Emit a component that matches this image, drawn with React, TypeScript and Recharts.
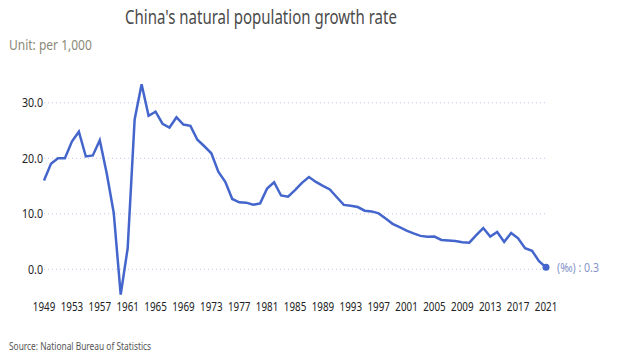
import { LineChart, Line, XAxis, YAxis, CartesianGrid } from "recharts";

const years = [
  1949, 1950, 1951, 1952, 1953, 1954, 1955, 1956, 1957, 1958, 1959, 1960, 1961, 1962, 1963, 1964, 1965, 1966, 1967,
  1968, 1969, 1970, 1971, 1972, 1973, 1974, 1975, 1976, 1977, 1978, 1979, 1980, 1981, 1982, 1983, 1984, 1985, 1986,
  1987, 1988, 1989, 1990, 1991, 1992, 1993, 1994, 1995, 1996, 1997, 1998, 1999, 2000, 2001, 2002, 2003, 2004, 2005,
  2006, 2007, 2008, 2009, 2010, 2011, 2012, 2013, 2014, 2015, 2016, 2017, 2018, 2019, 2020, 2021,
];

const growthRate = [
  16.0, 19.0, 20.0, 20.0, 23.0, 24.79, 20.32, 20.5, 23.23, 17.24, 10.19, -4.57, 3.78, 26.99, 33.33, 27.64, 28.38,
  26.22, 25.53, 27.38, 26.08, 25.83, 23.33, 22.16, 20.89, 17.57, 15.77, 12.66, 12.06, 12.0, 11.61, 11.87, 14.55,
  15.68, 13.29, 13.08, 14.26, 15.57, 16.61, 15.73, 15.04, 14.39, 12.98, 11.6, 11.45, 11.21, 10.55, 10.42, 10.06,
  9.14, 8.18, 7.58, 6.95, 6.45, 6.01, 5.87, 5.89, 5.28, 5.17, 5.08, 4.87, 4.79, 6.13, 7.43, 5.9, 6.71, 4.93, 6.53,
  5.58, 3.78, 3.32, 1.45, 0.34,
];

const xTicks = [1949, 1953, 1957, 1961, 1965, 1969, 1973, 1977, 1981, 1985, 1989, 1993, 1997, 2001, 2005, 2009, 2013, 2017, 2021];
const yTicks = [0, 10, 20, 30];

const data = years.map((year, i) => ({ year, rate: growthRate[i] }));

const LINE = "#4466cc";
const FONT = "'Noto Sans', 'Open Sans', sans-serif";

// the original uses a condensed face; squeeze Noto Sans horizontally
function XTick({ x, y, payload }: any) {
  return (
    <text transform={`translate(${x},${y}) scale(0.82,1)`} textAnchor="middle" dy="0.71em" fontSize={12} fill="#222" fontFamily={FONT}>
      {payload.value}
    </text>
  );
}

function YTick({ x, y, payload }: any) {
  return (
    <text transform={`translate(${x},${y}) scale(0.85,1)`} textAnchor="end" dy="0.35em" fontSize={12.5} fill="#222" fontFamily={FONT}>
      {Number(payload.value).toFixed(1)}
    </text>
  );
}

function EndDot(props: any) {
  const { cx, cy, index, value } = props;
  if (index !== data.length - 1) return null;
  return (
    <g>
      <circle cx={cx} cy={cy} r={3.5} fill={LINE} />
      <text transform={`translate(${cx + 11},${cy}) scale(0.88,1)`} dy="0.35em" fontSize={12} fill="#8595c8" fontFamily={FONT}>
        (‰) : {Number(value).toFixed(1)}
      </text>
    </g>
  );
}

const squeeze = (s: number) => ({ transform: `scaleX(${s})`, transformOrigin: "left center", whiteSpace: "nowrap" as const });

export default function App() {
  return (
    <div style={{ position: "absolute", left: 0, top: 0, width: 640, height: 360, background: "#fff", fontFamily: FONT }}>
      <div
        style={{
          position: "absolute",
          left: 261,
          top: 4,
          fontSize: 19,
          color: "#4a4a4a",
          whiteSpace: "nowrap",
          transform: "translateX(-50%) scaleX(0.79)",
        }}
      >
        China's natural population growth rate
      </div>
      <div style={{ position: "absolute", left: 9, top: 34, fontSize: 15, color: "#8a8a78", ...squeeze(0.8) }}>
        Unit: per 1,000
      </div>
      <LineChart width={640} height={360} data={data} margin={{ top: 75, right: 94, bottom: 33, left: 0 }}>
        <CartesianGrid vertical={false} stroke="#c2c4ee" strokeDasharray="1 3" syncWithTicks />
        <XAxis
          dataKey="year"
          type="number"
          domain={[1949, 2021]}
          ticks={xTicks}
          interval={0}
          axisLine={false}
          tickLine={false}
          tickSize={0}
          tickMargin={5}
          tick={<XTick />}
        />
        <YAxis
          type="number"
          domain={[-5, 35]}
          ticks={yTicks}
          width={44}
          axisLine={false}
          tickLine={false}
          tickSize={0}
          tickMargin={1}
          tick={<YTick />}
        />
        <Line
          type="linear"
          dataKey="rate"
          stroke={LINE}
          strokeWidth={2.5}
          dot={<EndDot />}
          activeDot={false}
          isAnimationActive={false}
        />
      </LineChart>
      <div style={{ position: "absolute", left: 9, top: 338, fontSize: 11, color: "#555", ...squeeze(0.76) }}>
        Source: National Bureau of Statistics
      </div>
    </div>
  );
}
